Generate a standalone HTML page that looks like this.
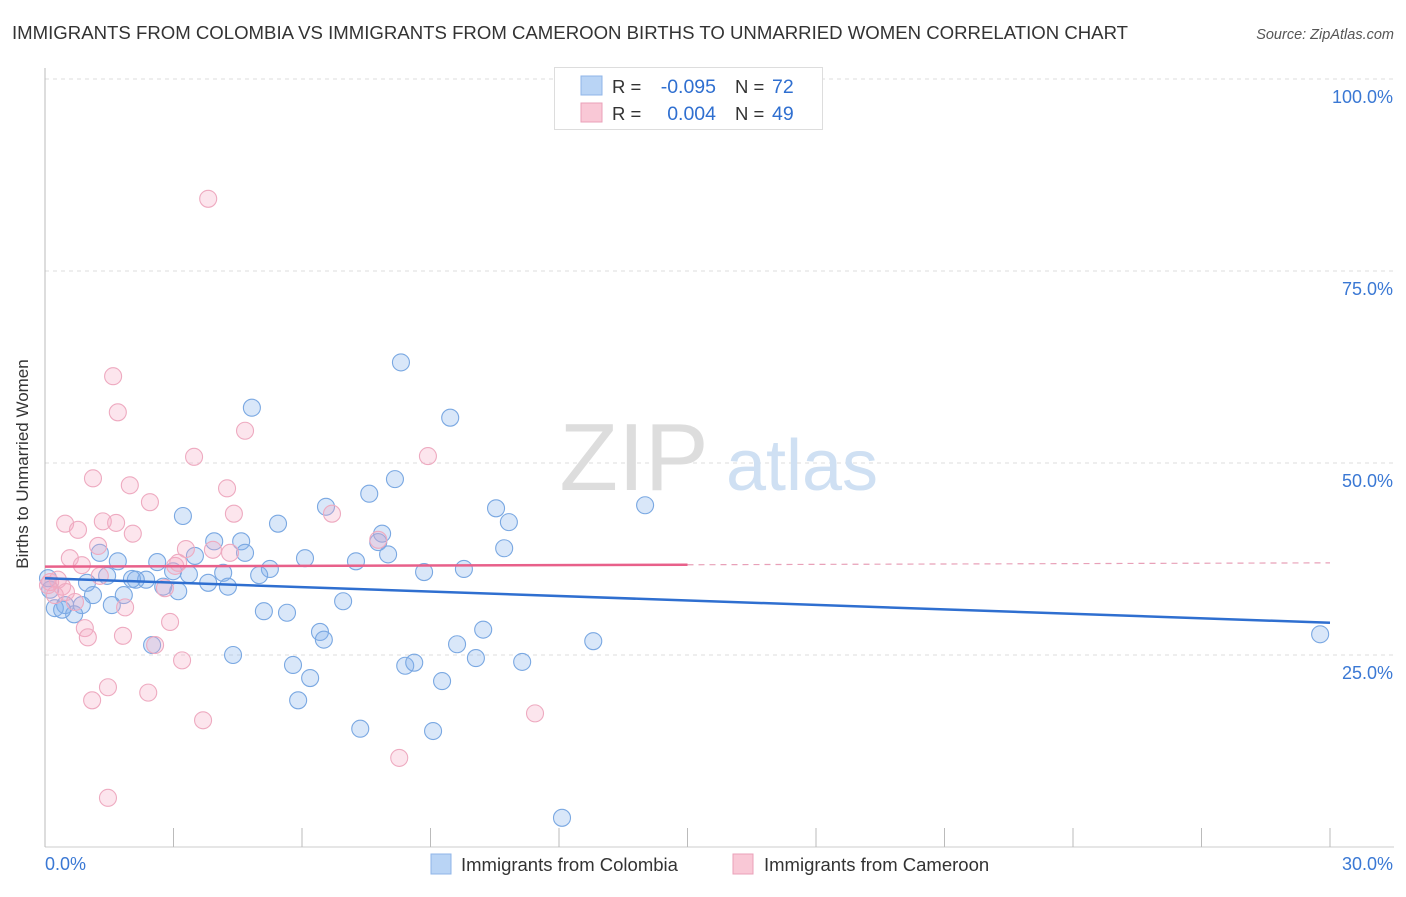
<!DOCTYPE html>
<html><head><meta charset="utf-8"><style>
body{margin:0;background:#fff;font-family:"Liberation Sans",sans-serif;}
svg text{font-family:"Liberation Sans",sans-serif;}
</style></head><body>
<svg width="1406" height="892" xmlns="http://www.w3.org/2000/svg">
<text x="12" y="39" font-size="18.6" fill="#333">IMMIGRANTS FROM COLOMBIA VS IMMIGRANTS FROM CAMEROON BIRTHS TO UNMARRIED WOMEN CORRELATION CHART</text>
<text x="1394" y="39" font-size="14.5" fill="#555" font-style="italic" text-anchor="end">Source: ZipAtlas.com</text>
<g id="grid"></g>
<g><text x="634" y="490" font-size="96" fill="#ddd" font-family="Liberation Serif" text-anchor="middle">ZIP</text><text x="802" y="490" font-size="72" fill="#cfe0f3" text-anchor="middle">atlas</text></g>
<g id="axes"></g>
<g id="pts"></g>
<g id="trend"></g>
<text x="20" y="456" font-size="17" fill="#333" text-anchor="middle" transform="rotate(-90 28 456)">Births to Unmarried Women</text>
<g>
<rect x="554.5" y="67.5" width="268" height="62" fill="#fff" stroke="#ddd"/>
<rect x="581" y="76" width="21" height="19" fill="#b9d4f5" stroke="#8fb5e8"/>
<text x="612" y="93" font-size="18.5" fill="#333">R =</text>
<text x="716" y="93" font-size="19.5" fill="#2f6fd0" text-anchor="end">-0.095</text>
<text x="735" y="93" font-size="18.5" fill="#333">N =</text>
<text x="772" y="93" font-size="19.5" fill="#2f6fd0">72</text>
<rect x="581" y="103" width="21" height="19" fill="#f9c8d6" stroke="#eaa0b8"/>
<text x="612" y="120" font-size="18.5" fill="#333">R =</text>
<text x="716" y="120" font-size="19.5" fill="#2f6fd0" text-anchor="end">0.004</text>
<text x="735" y="120" font-size="18.5" fill="#333">N =</text>
<text x="772" y="120" font-size="19.5" fill="#2f6fd0">49</text>
</g>
<g>
<rect x="431" y="854" width="20" height="20" fill="#b9d4f5" stroke="#8fb5e8"/>
<text x="461" y="871" font-size="18.5" fill="#333">Immigrants from Colombia</text>
<rect x="733" y="854" width="20" height="20" fill="#f9c8d6" stroke="#eaa0b8"/>
<text x="764" y="871" font-size="18.5" fill="#333">Immigrants from Cameroon</text>
</g>
</svg>
<script>
const yTicks=[25,50,75,100];
const yTickLabels=["25.0%","50.0%","75.0%","100.0%"];
const xTickLabels=["0.0%","30.0%"];
const colombiaX=[4.83,8.31,9.46,8.17,7.57,6.56,3.22,5.44,10.53,10.83,14.01,3.95,4.58,4.67,1.28,1.70,2.62,3.50,6.07,7.26,7.78,7.87,8.01,10.72,9.78,8.85,5.25,5.00,4.16,3.81,4.27,3.11,2.99,3.36,2.76,2.36,2.12,2.03,1.45,0.98,1.84,1.12,1.56,0.86,0.47,0.23,0.68,0.40,0.12,5.11,5.65,6.96,6.42,6.51,2.50,4.39,5.79,6.19,5.91,7.36,9.06,8.41,8.62,9.27,9.62,10.06,10.23,11.14,12.80,12.07,29.77,0.07];
const colombiaY=[57.2,63.1,55.9,47.9,46.0,44.3,43.1,42.1,44.1,42.3,44.5,39.8,39.8,38.3,38.3,37.2,37.1,37.9,37.6,37.2,39.7,40.8,38.1,38.9,36.2,35.8,36.2,35.4,35.7,34.4,33.9,33.3,35.9,35.5,33.9,34.8,34.8,34.9,35.3,34.4,32.8,32.8,31.5,31.5,31.5,31.1,30.3,30.9,33.5,30.7,30.5,32.0,28.0,27.0,26.3,25.0,23.7,22.0,19.1,15.4,15.1,23.6,24.0,21.6,26.4,24.6,28.3,24.1,26.8,3.8,27.7,35.0];
const cameroonX=[3.81,1.59,1.70,4.67,8.94,3.48,1.12,1.98,2.45,4.25,4.41,6.70,0.47,0.77,1.35,1.66,2.05,1.24,0.58,0.86,3.29,4.32,3.92,7.78,3.04,2.80,3.11,1.28,0.30,0.40,0.49,0.12,0.23,0.70,1.87,0.93,1.00,1.82,2.57,2.92,3.20,1.47,2.41,1.10,3.69,11.44,8.27,1.47,0.07];
const cameroonY=[84.4,61.3,56.6,54.2,50.9,50.8,48.0,47.1,44.9,46.7,43.4,43.4,42.1,41.3,42.4,42.2,40.8,39.2,37.6,36.7,38.8,38.3,38.7,40.0,36.6,33.7,37.0,35.3,34.8,33.9,33.2,34.5,32.8,31.9,31.2,28.5,27.3,27.5,26.3,29.3,24.3,20.8,20.1,19.1,16.5,17.4,11.6,6.4,34.1];
const colombiaTrend=[35.0,29.2];
const cameroonTrend=[36.5,37.0];
const X0=45,X1=1330,Y0=847,Y100=79;
const sx=v=>X0+(v/30)*(X1-X0);
const sy=v=>Y0-(v/100)*(Y0-Y100);
const NS="http://www.w3.org/2000/svg";
function mk(t,a,p){const e=document.createElementNS(NS,t);for(const k in a)e.setAttribute(k,a[k]);p.appendChild(e);return e;}
const grid=document.getElementById('grid'),axes=document.getElementById('axes');
yTicks.forEach((v,i)=>{
 const l=mk('line',{x1:X0,x2:1394,y1:sy(v),y2:sy(v),stroke:'#ddd','stroke-dasharray':'4,4'},grid);
 
 
 const t=mk('text',{x:1393,y:sy(v)+24,'font-size':18,fill:'#3a78d4','text-anchor':'end'},axes);
 t.textContent=yTickLabels[i];
 
 
});
const ax=mk('line',{x1:X0,x2:X0,y1:68,y2:Y0,stroke:'#bbb'},axes);


const bx=mk('line',{x1:X0,x2:1394,y1:Y0,y2:Y0,stroke:'#ccc'},axes);


for(let i=0;i<=10;i++){const tk=mk('line',{x1:sx(i*3),x2:sx(i*3),y1:828,y2:Y0,stroke:'#bbb'},axes);
 
 }
[[0,'start',45],[30,'end',1393]].forEach((d,i)=>{const t=mk('text',{x:d[2],y:870,'font-size':18,fill:'#3a78d4','text-anchor':d[1]},axes);t.textContent=xTickLabels[i];
 
 });
const pts=document.getElementById('pts');
colombiaX.forEach((x,i)=>{const c=mk('circle',{cx:sx(x),cy:sy(colombiaY[i]),r:8.5,fill:'rgba(130,175,235,0.3)',stroke:'#7aa8e2','stroke-width':1.1},pts);
 
 });
cameroonX.forEach((x,i)=>{const c=mk('circle',{cx:sx(x),cy:sy(cameroonY[i]),r:8.5,fill:'rgba(245,170,195,0.3)',stroke:'#eeaac0','stroke-width':1.1},pts);
 
 });
const tr=document.getElementById('trend');
const t1=mk('line',{x1:sx(0),x2:sx(30),y1:sy(colombiaTrend[0]),y2:sy(colombiaTrend[1]),stroke:'#2f6fd0','stroke-width':2.5},tr);


const ym=cameroonTrend[0]+(cameroonTrend[1]-cameroonTrend[0])*0.5;
const t2=mk('line',{x1:sx(0),x2:sx(15),y1:sy(cameroonTrend[0]),y2:sy(ym),stroke:'#e8608a','stroke-width':2.5},tr);


const t3=mk('line',{x1:sx(15),x2:sx(30),y1:sy(ym),y2:sy(cameroonTrend[1]),stroke:'#e8a0b8','stroke-width':1.2,'stroke-dasharray':'6,5'},tr);


</script>
</body></html>
